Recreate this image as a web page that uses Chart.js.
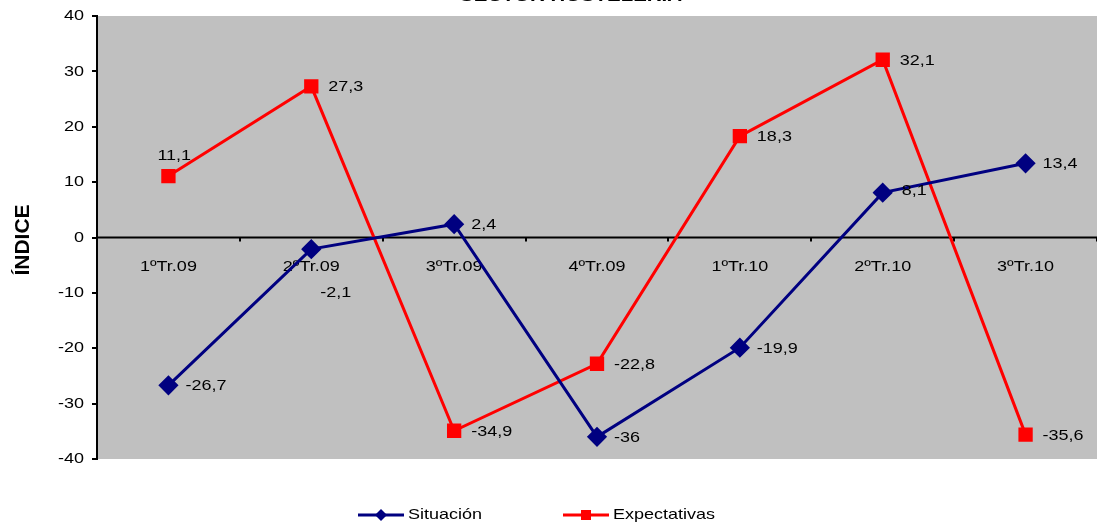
<!DOCTYPE html>
<html>
<head>
<meta charset="utf-8">
<script src="https://cdn.jsdelivr.net/npm/chart.js@4.4.1/dist/chart.umd.min.js"></script>
<style>
  html, body { margin: 0; padding: 0; background: #fff; overflow: hidden; }
  #wrap { width: 1097px; height: 530px; position: relative; }
</style>
</head>
<body>
<div id="wrap"><canvas id="chart"></canvas></div>
<script>
// Data
const categories = ['1ºTr.09', '2ºTr.09', '3ºTr.09', '4ºTr.09', '1ºTr.10', '2ºTr.10', '3ºTr.10'];
const situacion = [-26.7, -2.1, 2.4, -36, -19.9, 8.1, 13.4];
const expectativas = [11.1, 27.3, -34.9, -22.8, 18.3, 32.1, -35.6];
const yTicks = [-40, -30, -20, -10, 0, 10, 20, 30, 40];

const FONT = 'Liberation Sans, Arial, sans-serif';
const NAVY = '#000080';
const RED = '#FF0000';
const STRETCH = 1.2; // the original text is a bit wide

const fmt = v => String(v).replace('.', ',');

// text drawn with a little horizontal stretch
function wideText(ctx, text, x, y, align, font) {
    ctx.save();
    ctx.font = font;
    ctx.textBaseline = 'middle';
    ctx.textAlign = 'left';
    const w = ctx.measureText(text).width * STRETCH;
    let left = x;
    if (align === 'center') left = x - w / 2;
    if (align === 'right') left = x - w;
    ctx.translate(left, y);
    ctx.scale(STRETCH, 1);
    ctx.fillText(text, 0, 0);
    ctx.restore();
}

const decorPlugin = {
    id: 'decor',
    beforeDraw(chart) {
        const { ctx, chartArea: a } = chart;
        ctx.save();
        ctx.fillStyle = '#C0C0C0';
        ctx.fillRect(a.left, a.top, a.right - a.left, a.bottom - a.top);
        ctx.restore();
    },
    beforeDatasetsDraw(chart) {
        const { ctx, chartArea: a, scales } = chart;
        const y0 = scales.y.getPixelForValue(0);
        ctx.save();
        // zero line
        ctx.strokeStyle = '#000';
        ctx.lineWidth = 2;
        ctx.beginPath();
        ctx.moveTo(a.left, y0);
        ctx.lineTo(a.right, y0);
        ctx.stroke();
        // tick marks between categories
        const step = (a.right - a.left) / categories.length;
        for (let i = 0; i <= categories.length; i++) {
            const x = Math.round(a.left + i * step);
            ctx.beginPath();
            ctx.moveTo(x, y0);
            ctx.lineTo(x, y0 + 4);
            ctx.stroke();
        }
        ctx.fillStyle = '#000';
        // category labels
        categories.forEach((c, i) => {
            wideText(ctx, c, scales.x.getPixelForValue(i), y0 + 29, 'center', '15px ' + FONT);
        });
        // y tick labels
        yTicks.forEach(v => {
            wideText(ctx, String(v), 84, scales.y.getPixelForValue(v), 'right', '15px ' + FONT);
        });
        ctx.restore();
    },
    afterDatasetsDraw(chart) {
        const { ctx, scales } = chart;
        ctx.save();
        ctx.fillStyle = '#000';
        // value labels
        chart.data.datasets.forEach((ds, d) => {
            ds.data.forEach((v, i) => {
                const x = scales.x.getPixelForValue(i);
                const y = scales.y.getPixelForValue(v);
                let dx = 17, dy = 1;
                if (d === 0 && i === 1) { dx = 9; dy = 44; }
                if (d === 0 && i === 5) { dx = 19; dy = -2; }
                if (d === 1 && i === 0) { dx = -11; dy = -20; }
                wideText(ctx, fmt(v), x + dx, y + dy, 'left', '15px ' + FONT);
            });
        });

        // title (cut off at the top of the picture)
        wideText(ctx, 'SECTOR HOSTELERÍA', 571, -4, 'center', 'bold 17px ' + FONT);

        // y axis title
        ctx.save();
        ctx.translate(23, 240);
        ctx.rotate(-Math.PI / 2);
        ctx.font = 'bold 21px ' + FONT;
        ctx.textAlign = 'center';
        ctx.textBaseline = 'middle';
        ctx.fillText('ÍNDICE', 0, 0);
        ctx.restore();

        // legend
        const items = [
            { label: 'Situación', color: NAVY, shape: 'diamond', x: 358 },
            { label: 'Expectativas', color: RED, shape: 'square', x: 563 }
        ];
        const ly = 515;
        items.forEach(it => {
            ctx.strokeStyle = it.color;
            ctx.fillStyle = it.color;
            ctx.lineWidth = 3;
            ctx.beginPath();
            ctx.moveTo(it.x, ly);
            ctx.lineTo(it.x + 46, ly);
            ctx.stroke();
            const cx = it.x + 23;
            ctx.beginPath();
            if (it.shape === 'diamond') {
                ctx.moveTo(cx, ly - 6);
                ctx.lineTo(cx + 6, ly);
                ctx.lineTo(cx, ly + 6);
                ctx.lineTo(cx - 6, ly);
                ctx.closePath();
                ctx.fill();
            } else {
                ctx.fillRect(cx - 5, ly - 5, 10, 10);
            }
            ctx.fillStyle = '#000';
            wideText(ctx, it.label, it.x + 50, ly, 'left', '15px ' + FONT);
        });
        ctx.restore();
    }
};

new Chart(document.getElementById('chart'), {
    type: 'line',
    data: {
        labels: categories,
        datasets: [
            {
                label: 'Situación',
                data: situacion,
                borderColor: NAVY,
                backgroundColor: NAVY,
                borderWidth: 3,
                pointStyle: 'rectRot',
                pointRadius: 8,
                pointHoverRadius: 8,
                tension: 0
            },
            {
                label: 'Expectativas',
                data: expectativas,
                borderColor: RED,
                backgroundColor: RED,
                borderWidth: 3,
                pointStyle: 'rect',
                pointRadius: 8,
                pointHoverRadius: 8,
                tension: 0
            }
        ]
    },
    options: {
        responsive: true,
        maintainAspectRatio: false,
        animation: false,
        layout: { autoPadding: false, padding: { top: 15, right: 0, bottom: 71, left: 0 } },
        plugins: {
            legend: { display: false },
            tooltip: { enabled: false }
        },
        scales: {
            x: {
                type: 'category',
                offset: true,
                display: false
            },
            y: {
                min: -40,
                max: 40,
                afterFit(scale) { scale.width = 97; },
                afterBuildTicks(scale) { scale.ticks = yTicks.map(v => ({ value: v })); },
                border: { color: '#000', width: 2 },
                grid: { drawOnChartArea: false, drawTicks: true, tickLength: 5, color: '#000', lineWidth: 2 },
                ticks: { color: 'rgba(0,0,0,0)', font: { family: FONT, size: 15 }, padding: 7 }
            }
        }
    },
    plugins: [decorPlugin]
});
</script>
</body>
</html>
